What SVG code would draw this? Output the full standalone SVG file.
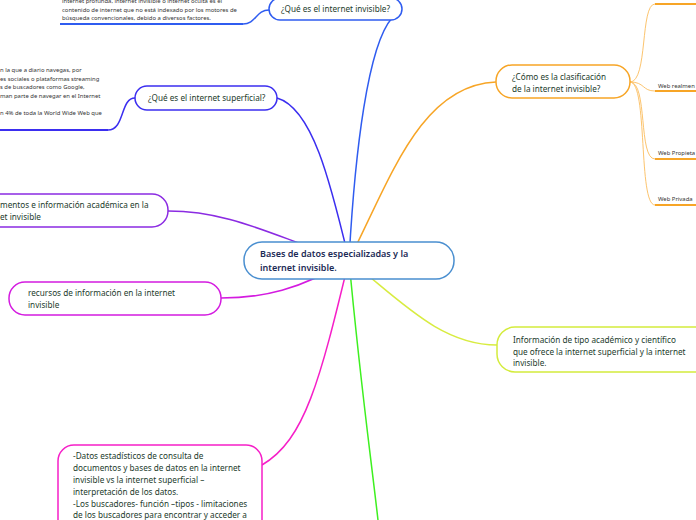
<svg xmlns="http://www.w3.org/2000/svg" width="696" height="520" viewBox="0 0 696 520">
<style>
text{font-family:"Noto Sans","Open Sans",sans-serif;}
.t{font-size:8.2px;fill:#1c3b2c;}
.c{font-size:9px;fill:#1b2a55;font-weight:600;}
.s{font-size:5.9px;fill:#333;}
.node{fill:#fff;stroke-width:1.5;}
.con{fill:none;stroke-width:1.5;}
.sub{fill:none;stroke:#fcc46e;stroke-width:1;}
.ul{fill:none;stroke-width:2;}
</style>
<rect width="696" height="520" fill="#fff"/>
<g id="connectors">
<path class="con" stroke="#2f5cf0" d="M349,260 C355,150 368,45 392,18"/>
<path class="con" stroke="#3b2ef0" d="M349,260 C330,180 312,108 277,98"/>
<path class="con" stroke="#8b2be2" d="M349,260 C280,240 235,211 168,211"/>
<path class="con" stroke="#d41be0" d="M349,260 C300,290 262,298 221,298"/>
<path class="con" stroke="#f61fc8" d="M349,260 C320,380 305,440 262,465"/>
<path class="con" stroke="#3ef020" d="M349,260 C360,380 370,450 378,520"/>
<path class="con" stroke="#d8ec40" d="M349,260 C400,300 440,345 497,345"/>
<path class="con" stroke="#f7a526" d="M349,260 C390,180 420,85 496,82"/>
<path class="con" stroke="#2f5cf0" stroke-width="1" d="M243,24 C256,24 256,10 269,10"/>
<path class="ul" stroke="#2f5cf0" d="M60,24 H243"/>
<path class="con" stroke="#3b2ef0" stroke-width="1" d="M108,130 C125,130 120,98 135,98"/>
<path class="ul" stroke="#3b2ef0" d="M0,130 H108"/>
<path class="sub" d="M630,82 C648,82 640,4 655,4"/>
<path class="sub" d="M630,82 C645,82 642,91 655,91"/>
<path class="sub" d="M630,82 C648,82 638,159 655,159"/>
<path class="sub" d="M630,82 C648,82 638,205 655,205"/>
<path class="ul" stroke="#f7a526" d="M655,4 H696 M655,91 H696 M655,159 H696 M655,205 H696"/>
</g>
<g id="top-text">
<text class="s" x="62" y="3">internet profunda, internet invisible o internet oculta es el</text>
<text class="s" x="62" y="12">contenido de internet que no está indexado por los motores de</text>
<text class="s" x="62" y="20">búsqueda convencionales, debido a diversos factores.</text>
</g>
<g id="superficial-text">
<text class="s" x="0" y="72">n la que a diario navegas, por</text>
<text class="s" x="0" y="81">es sociales o plataformas streaming</text>
<text class="s" x="0" y="89">s de buscadores como Google,</text>
<text class="s" x="0" y="98">man parte de navegar en el Internet</text>
<text class="s" x="0" y="115">n 4% de toda la World Wide Web que</text>
</g>
<g id="central">
<rect class="node" stroke="#4a8fd0" x="244" y="242" width="210" height="37" rx="18"/>
<text class="c" x="260" y="257">Bases de datos especializadas y la</text>
<text class="c" x="260" y="271">internet invisible.</text>
</g>
<g id="invisible">
<rect class="node" stroke="#2f5cf0" x="269" y="-2" width="133" height="22" rx="11"/>
<text class="t" x="281" y="12">¿Qué es el internet invisible?</text>
</g>
<g id="superficial">
<rect class="node" stroke="#3b2ef0" x="135" y="86" width="142" height="24" rx="12"/>
<text class="t" x="148" y="101">¿Qué es el internet superficial?</text>
</g>
<g id="clasificacion">
<rect class="node" stroke="#f7a526" x="496" y="65" width="134" height="33" rx="16"/>
<text class="t" x="512" y="80">¿Cómo es la clasificación</text>
<text class="t" x="512" y="92">de la internet invisible?</text>
</g>
<g id="web-realmente"><text class="s" x="658" y="88">Web realmen</text></g>
<g id="web-propietaria"><text class="s" x="658" y="155">Web Propieta</text></g>
<g id="web-privada"><text class="s" x="658" y="201">Web Privada</text></g>
<g id="documentos">
<rect class="node" stroke="#8b2be2" x="-20" y="194" width="188" height="33" rx="16"/>
<text class="t" x="0" y="208">mentos e información académica en la</text>
<text class="t" x="0" y="220">et invisible</text>
</g>
<g id="recursos">
<rect class="node" stroke="#d41be0" x="9" y="282" width="212" height="33" rx="16"/>
<text class="t" x="28" y="296">recursos de información en la internet</text>
<text class="t" x="28" y="308">invisible</text>
</g>
<g id="informacion">
<rect class="node" stroke="#d4ec3c" x="497" y="327" width="215" height="45" rx="18"/>
<text class="t" x="513" y="343">Información de tipo académico y científico</text>
<text class="t" x="513" y="355">que ofrece la internet superficial y la internet</text>
<text class="t" x="513" y="366">invisible.</text>
</g>
<g id="datos">
<rect class="node" stroke="#f61fc8" x="58" y="445" width="204" height="100" rx="16"/>
<text class="t" x="73" y="459">-Datos estadísticos de consulta de</text>
<text class="t" x="73" y="471">documentos y bases de datos en la internet</text>
<text class="t" x="73" y="483">invisible vs la internet superficial –</text>
<text class="t" x="73" y="495">interpretación de los datos.</text>
<text class="t" x="73" y="507">-Los buscadores- función –tipos -  limitaciones</text>
<text class="t" x="73" y="518">de los buscadores para encontrar y acceder a</text>
<text class="t" x="73" y="530">información científica</text>
</g>
</svg>
